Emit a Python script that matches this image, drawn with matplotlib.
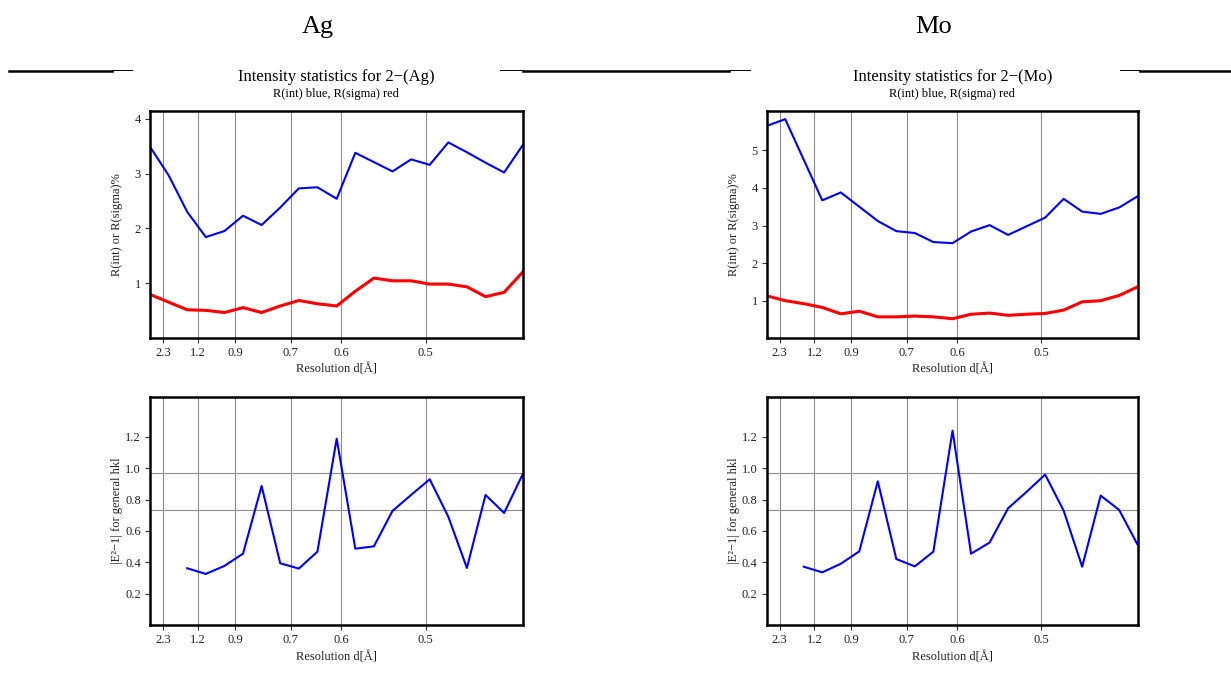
import matplotlib.pyplot as plt
from matplotlib.lines import Line2D

plt.rcParams['font.family'] = ['Liberation Serif', 'DejaVu Serif']

# resolution bins along x, in 1/d^2 (1/Å^2)
inv_d2 = [0.00, 0.27, 0.54, 0.81, 1.08, 1.35, 1.62, 1.89, 2.16, 2.43, 2.71,
          2.98, 3.25, 3.52, 3.79, 4.06, 4.33, 4.60, 4.87, 5.14, 5.41]
d_ticks = [2.3, 1.2, 0.9, 0.7, 0.6, 0.5]

# Ag data set
ag_rint = [3.49, 2.97, 2.30, 1.84, 1.95, 2.23, 2.06, 2.38, 2.73, 2.75, 2.54,
           3.38, 3.21, 3.04, 3.26, 3.16, 3.57, 3.39, 3.20, 3.02, 3.52]
ag_rsig = [0.79, 0.65, 0.51, 0.50, 0.46, 0.55, 0.46, 0.58, 0.68, 0.62, 0.58,
           0.85, 1.09, 1.04, 1.04, 0.98, 0.98, 0.93, 0.75, 0.83, 1.20]
ag_e2 = [0.362, 0.326, 0.377, 0.455, 0.887, 0.394, 0.360, 0.468, 1.189, 0.487,
         0.502, 0.728, 0.830, 0.930, 0.691, 0.364, 0.830, 0.715, 0.962]

# Mo data set
mo_rint = [5.65, 5.83, 4.75, 3.67, 3.88, 3.50, 3.12, 2.85, 2.80, 2.56, 2.53,
           2.84, 3.01, 2.75, 2.98, 3.21, 3.71, 3.37, 3.31, 3.48, 3.78]
mo_rsig = [1.13, 1.00, 0.92, 0.82, 0.65, 0.72, 0.57, 0.57, 0.59, 0.57, 0.52,
           0.64, 0.67, 0.61, 0.64, 0.66, 0.75, 0.97, 1.00, 1.14, 1.37]
mo_e2 = [0.372, 0.336, 0.391, 0.470, 0.917, 0.421, 0.374, 0.468, 1.240, 0.455,
         0.526, 0.745, 0.850, 0.960, 0.730, 0.372, 0.826, 0.734, 0.511]

# expected <|E^2-1|> for centric / acentric structures
e2_centric = 0.968
e2_acentric = 0.736

W, H = 1231, 683


def style_axes(ax):
    ax.set_xlim(0, 5.41)
    ax.set_xticks([1 / d ** 2 for d in d_ticks])
    ax.set_xticklabels([str(d) for d in d_ticks])
    ax.grid(axis='x', color='#8c8c8c', lw=0.8)
    for s in ax.spines.values():
        s.set_linewidth(1.8)
    ax.tick_params(length=3.5, width=0.8, color='#333333', labelsize=9,
                   pad=3, labelcolor='#222222')
    ax.set_xlabel('Resolution d[Å]', fontsize=9, labelpad=3.5, color='#222222')


def set_ylabel(ax, text):
    ax.set_ylabel(text, fontsize=9, color='#222222', va='center')
    ax.yaxis.set_label_coords(-0.0894, 0.5)


def r_panel(ax, rint, rsig, ylim, yticks, name):
    ax.plot(inv_d2, rint, color='#0000ff', lw=1.5)
    ax.plot(inv_d2, rsig, color='#ff0000', lw=2.2)
    ax.set_ylim(*ylim)
    ax.set_yticks(yticks)
    style_axes(ax)
    set_ylabel(ax, 'R(int) or R(sigma)%')
    ax.text(0.5, 1.148, 'Intensity statistics for 2\u2212(%s)' % name,
            fontsize=12, ha='center', va='center', transform=ax.transAxes)
    ax.text(0.5, 1.074, 'R(int) blue, R(sigma) red', fontsize=9,
            ha='center', va='center', transform=ax.transAxes)


def e2_panel(ax, e2):
    ax.plot(inv_d2[2:], e2, color='#0000ff', lw=1.5)
    ax.axhline(e2_centric, color='#8c8c8c', lw=0.8, zorder=1)
    ax.axhline(e2_acentric, color='#8c8c8c', lw=0.8, zorder=1)
    ax.set_ylim(0, 1.457)
    ax.set_yticks([0.2, 0.4, 0.6, 0.8, 1.0, 1.2])
    ax.set_yticklabels(['0.2', '0.4', '0.6', '0.8', '1.0', '1.2'])
    style_axes(ax)
    set_ylabel(ax, '|E\u00b2\u22121| for general hkl')


fig = plt.figure(figsize=(W / 100, H / 100), dpi=100)


def px_axes(x0, y0, x1, y1):
    return fig.add_axes([x0 / W, 1 - y1 / H, (x1 - x0) / W, (y1 - y0) / H])


ax_ag_r = px_axes(150, 110.7, 522.7, 337.7)
ax_ag_e = px_axes(150, 396.7, 522.7, 625)
ax_mo_r = px_axes(766.7, 110.7, 1137.7, 337.7)
ax_mo_e = px_axes(766.7, 396.7, 1137.7, 625)

r_panel(ax_ag_r, ag_rint, ag_rsig, (0, 4.15), [1, 2, 3, 4], 'Ag')
e2_panel(ax_ag_e, ag_e2)
r_panel(ax_mo_r, mo_rint, mo_rsig, (0.015, 6.055), [1, 2, 3, 4, 5], 'Mo')
e2_panel(ax_mo_e, mo_e2)

# column headers
fig.text(318 / W, 1 - 27 / H, 'Ag', fontsize=19, ha='center', va='center')
fig.text(934 / W, 1 - 27 / H, 'Mo', fontsize=19, ha='center', va='center')

# table rule under the headers
y_rule = 1 - 71 / H
for x0, x1 in [(9, 112), (523, 729), (1140, 1231)]:
    fig.add_artist(Line2D([x0 / W, x1 / W], [y_rule, y_rule], color='black', lw=1.8))
for x0, x1 in [(112, 132), (500, 523), (729, 750), (1120, 1140)]:
    fig.add_artist(Line2D([x0 / W, x1 / W], [y_rule + 0.6 / H] * 2, color='black', lw=0.7))

fig.savefig('out.png', dpi=100)
